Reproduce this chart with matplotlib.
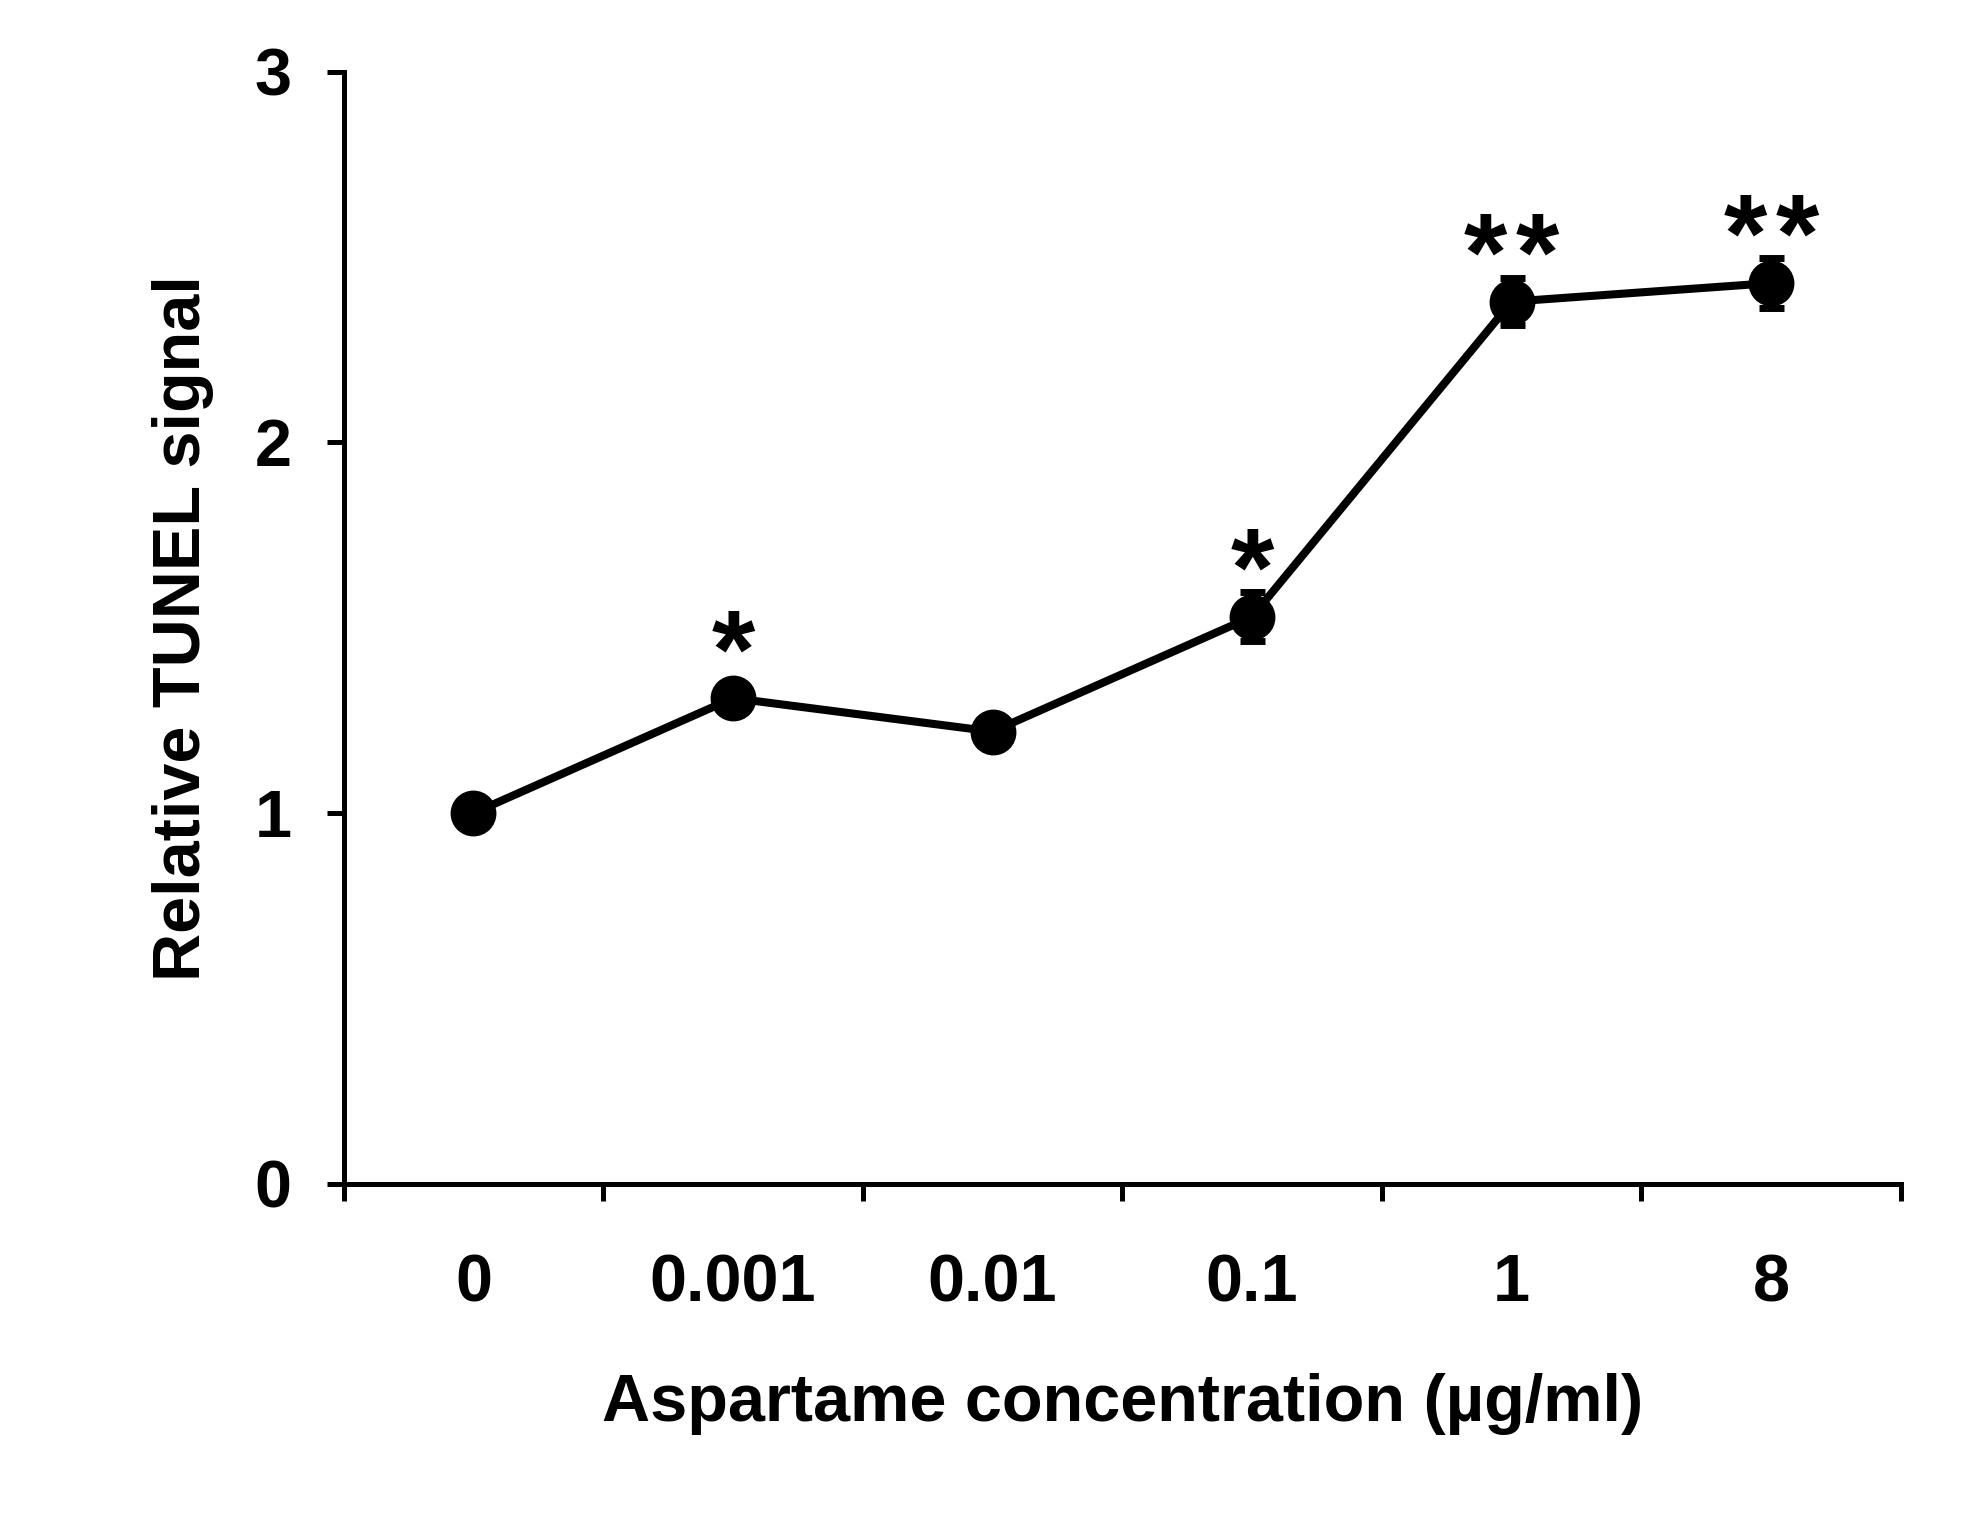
import matplotlib
matplotlib.use("Agg")
import matplotlib.pyplot as plt

# data
concentrations = ["0", "0.001", "0.01", "0.1", "1", "8"]
tunel_signal = [1.00, 1.31, 1.22, 1.53, 2.38, 2.43]
tunel_err = [0.02, 0.03, 0.03, 0.067, 0.064, 0.067]
stars = ["", "*", "", "*", "**", "**"]

plt.rcParams["font.family"] = ["Liberation Sans", "DejaVu Sans"]
plt.rcParams["font.weight"] = "bold"

fig = plt.figure(figsize=(19.72, 15.22), dpi=100)
ax = fig.add_axes([0.1743, 0.2223, 0.7897, 0.7305])

xs = [i + 0.5 for i in range(len(concentrations))]
ax.errorbar(xs, tunel_signal, yerr=tunel_err, fmt="none", ecolor="black",
            elinewidth=5, capsize=9, capthick=5, zorder=2)
ax.plot(xs, tunel_signal, color="black", lw=5.8, marker="o", ms=32,
        zorder=3)

# significance marks, one asterisk glyph each
for x, y, s in zip(xs, tunel_signal, stars):
    n = len(s)
    for k in range(n):
        dx = (k - (n - 1) / 2) * 37.5
        ax.annotate("*", (x, y), xytext=(dx, 8), textcoords="offset points",
                    ha="center", va="baseline", fontsize=80,
                    fontweight="bold")

ax.set_xlim(0, len(concentrations))
ax.set_ylim(0, 3)
ax.set_yticks([0, 1, 2, 3])
ax.set_xticks(range(len(concentrations) + 1))
ax.set_xticklabels([])
ax.set_xticks(xs, minor=True)
ax.set_xticklabels(concentrations, minor=True)

for sp in ("top", "right"):
    ax.spines[sp].set_visible(False)
for sp in ("left", "bottom"):
    ax.spines[sp].set_linewidth(3.6)

ax.tick_params(axis="both", which="major", direction="out", length=12.5,
               width=3.6, labelsize=48)
ax.tick_params(axis="y", pad=25)
ax.tick_params(axis="x", which="minor", length=0, pad=50, labelsize=48)

ax.set_xlabel("Aspartame concentration (µg/ml)", fontsize=48,
              fontweight="bold", va="center")
ax.xaxis.set_label_coords(0.5, -0.198)
ax.set_ylabel("Relative TUNEL signal", fontsize=48, fontweight="bold",
              va="center")
ax.yaxis.set_label_coords(-0.103, 0.5)

fig.savefig("out.png", dpi=100)
